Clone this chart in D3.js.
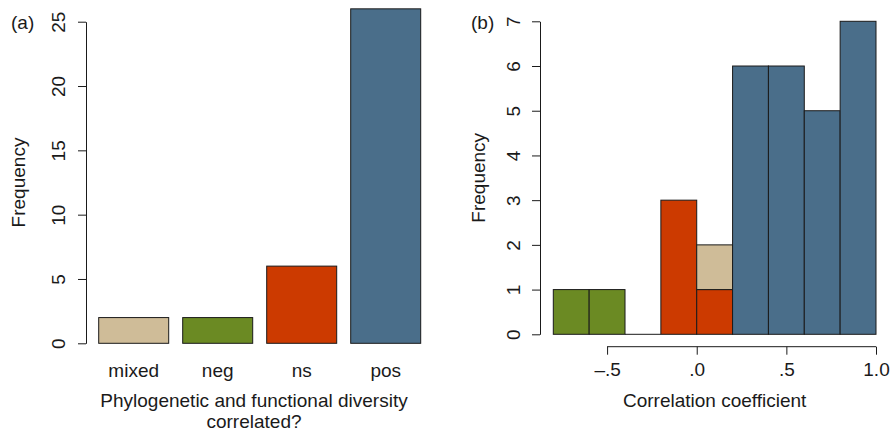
<!DOCTYPE html>
<html>
<head>
<meta charset="utf-8">
<script src="https://cdn.jsdelivr.net/npm/d3@7"></script>
<style>
  body { margin: 0; background: #fff; }
  svg text { font-family: "Liberation Sans", Arial, Helvetica, sans-serif; fill: #1a1a1a; }
</style>
</head>
<body>
<svg class="chart" width="893" height="435"></svg>
<script>
// panel (a): counts per category
var categories = ["mixed", "neg", "ns", "pos"];
var counts = [2, 2, 6, 26];
var yTicksA = [0, 5, 10, 15, 20, 25];

// panel (b): histogram of correlation coefficients, bins of 0.2
var binEdges = [-0.8, -0.6, -0.4, -0.2, 0.0, 0.2, 0.4, 0.6, 0.8, 1.0];
// stacked series per bin, bottom to top
var seriesNames = ["neg", "ns", "mixed", "pos"];
var negBins   = [1, 1, 0, 0, 0, 0, 0, 0, 0];
var nsBins    = [0, 0, 0, 3, 1, 0, 0, 0, 0];
var mixedBins = [0, 0, 0, 0, 1, 0, 0, 0, 0];
var posBins   = [0, 0, 0, 0, 0, 6, 6, 5, 7];
var yTicksB = [0, 1, 2, 3, 4, 5, 6, 7];
var xTicksB = [-0.5, 0.0, 0.5, 1.0];
var xTickLabelsB = ["\u2013.5", ".0", ".5", "1.0"];

var colors = { mixed: "#cfbc98", neg: "#6b8a23", ns: "#cc3a00", pos: "#4a6e8a" };

var fontSize = 19;
var canvas = d3.select(".chart");

// ---------- PANEL (a) ----------
var ya = d3.scaleLinear().domain([0, 25]).range([343.3, 21.7]);
// bar slots: step 84, gap 14, bar width 70
var xa = d3.scaleLinear().domain([0, categories.length]).range([84.7, 84.7 + 84 * categories.length]);

var ga = canvas.append("g");

ga.selectAll("rect.bar")
  .data(categories)
  .enter().append("rect")
  .attr("class", "bar")
  .attr("x", function (d, i) { return xa(i) + 14; })
  .attr("width", 70)
  .attr("y", function (d, i) { return ya(counts[i]); })
  .attr("height", function (d, i) { return ya(0) - ya(counts[i]); })
  .attr("fill", function (d) { return colors[d]; })
  .attr("stroke", "#1a1a1a")
  .attr("stroke-width", 1);

var yAxisA = ga.append("g")
  .attr("transform", "translate(86,0)")
  .call(d3.axisLeft(ya).tickValues(yTicksA).tickSize(8).tickSizeOuter(0).tickFormat(d3.format("d")));
yAxisA.select(".domain").attr("stroke", "#1a1a1a");
yAxisA.selectAll(".tick line").attr("stroke", "#1a1a1a");
yAxisA.selectAll("text")
  .attr("font-size", fontSize)
  .attr("x", 0).attr("dy", 0)
  .attr("text-anchor", "middle")
  .attr("transform", "translate(-21,0) rotate(-90)");

ga.selectAll("text.cat")
  .data(categories)
  .enter().append("text")
  .attr("class", "cat")
  .attr("x", function (d, i) { return xa(i) + 14 + 35; })
  .attr("y", 377)
  .attr("text-anchor", "middle")
  .attr("font-size", fontSize)
  .text(function (d) { return d; });

ga.append("text")
  .attr("x", 254).attr("y", 407)
  .attr("text-anchor", "middle").attr("font-size", fontSize)
  .text("Phylogenetic and functional diversity");
ga.append("text")
  .attr("x", 254).attr("y", 428)
  .attr("text-anchor", "middle").attr("font-size", fontSize)
  .text("correlated?");

ga.append("text")
  .attr("transform", "translate(25," + ((ya(0) + ya(25)) / 2) + ") rotate(-90)")
  .attr("text-anchor", "middle").attr("font-size", fontSize)
  .text("Frequency");

ga.append("text")
  .attr("x", 11).attr("y", 29)
  .attr("font-size", fontSize)
  .text("(a)");

// ---------- PANEL (b) ----------
var xb = d3.scaleLinear().domain([-0.8, 1.0]).range([553.3, 876]);
var yb = d3.scaleLinear().domain([0, 7]).range([334.3, 21.3]);

var gb = canvas.append("g");

var binData = binEdges.slice(0, -1).map(function (x0, i) {
  return { x0: x0, x1: binEdges[i + 1], neg: negBins[i], ns: nsBins[i], mixed: mixedBins[i], pos: posBins[i] };
});
var stacked = d3.stack().keys(seriesNames)(binData);

// zero-count bins drawn as flat outline
gb.selectAll("line.empty")
  .data(binData.filter(function (d) { return d.neg + d.ns + d.mixed + d.pos === 0; }))
  .enter().append("line")
  .attr("class", "empty")
  .attr("x1", function (d) { return xb(d.x0); })
  .attr("x2", function (d) { return xb(d.x1); })
  .attr("y1", yb(0)).attr("y2", yb(0))
  .attr("stroke", "#1a1a1a");

gb.selectAll("g.series")
  .data(stacked)
  .enter().append("g")
  .attr("class", "series")
  .attr("fill", function (s) { return colors[s.key]; })
  .selectAll("rect")
  .data(function (s) { return s.filter(function (p) { return p[1] > p[0]; }); })
  .enter().append("rect")
  .attr("x", function (p) { return xb(p.data.x0); })
  .attr("width", function (p) { return xb(p.data.x1) - xb(p.data.x0); })
  .attr("y", function (p) { return yb(p[1]); })
  .attr("height", function (p) { return yb(p[0]) - yb(p[1]); })
  .attr("stroke", "#1a1a1a")
  .attr("stroke-width", 1);

var yAxisB = gb.append("g")
  .attr("transform", "translate(540,0)")
  .call(d3.axisLeft(yb).tickValues(yTicksB).tickSize(8).tickSizeOuter(0).tickFormat(d3.format("d")));
yAxisB.select(".domain").attr("stroke", "#1a1a1a");
yAxisB.selectAll(".tick line").attr("stroke", "#1a1a1a");
yAxisB.selectAll("text")
  .attr("font-size", fontSize)
  .attr("x", 0).attr("dy", 0)
  .attr("text-anchor", "middle")
  .attr("transform", "translate(-20,0) rotate(-90)");

var xAxisB = gb.append("g")
  .attr("transform", "translate(0,346.7)")
  .call(d3.axisBottom(xb).tickValues(xTicksB).tickSize(8).tickSizeOuter(0)
    .tickFormat(function (d, i) { return xTickLabelsB[i]; }));
xAxisB.select(".domain")
  .attr("d", "M" + xb(xTicksB[0]) + ",0H" + xb(xTicksB[xTicksB.length - 1]))
  .attr("stroke", "#1a1a1a");
xAxisB.selectAll(".tick line").attr("stroke", "#1a1a1a");
xAxisB.selectAll("text")
  .attr("font-size", fontSize)
  .attr("y", 29).attr("dy", 0);

gb.append("text")
  .attr("x", xb(0.1)).attr("y", 407)
  .attr("text-anchor", "middle").attr("font-size", fontSize)
  .text("Correlation coefficient");

gb.append("text")
  .attr("transform", "translate(485," + ((yb(0) + yb(7)) / 2) + ") rotate(-90)")
  .attr("text-anchor", "middle").attr("font-size", fontSize)
  .text("Frequency");

gb.append("text")
  .attr("x", 471).attr("y", 29)
  .attr("font-size", fontSize)
  .text("(b)");
</script>
</body>
</html>
